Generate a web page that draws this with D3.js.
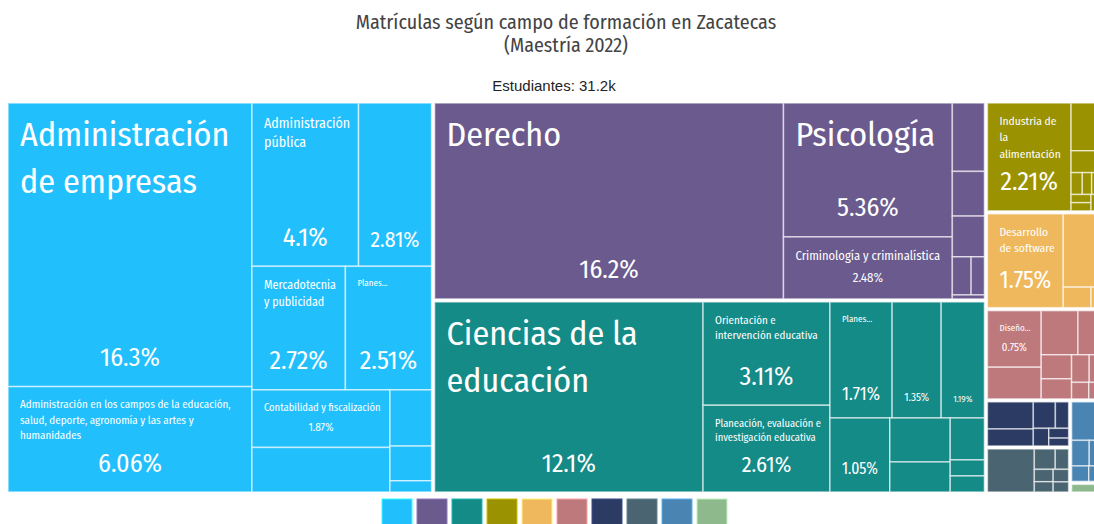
<!DOCTYPE html>
<html><head><meta charset="utf-8">
<script src="https://cdn.jsdelivr.net/npm/d3@7"></script>
<style>html,body{margin:0;padding:0;background:#fff;overflow:hidden}</style>
</head><body>
<svg id="chart" width="1094" height="524"></svg>
<script>
// ---------- DATA ----------
const titleLines = ["Matrículas según campo de formación en Zacatecas", "(Maestría 2022)"];
const subtitleLabel = "Estudiantes";
const totalStudents = 31200;

const groupNames = [
  "Administración y negocios",
  "Ciencias sociales y derecho",
  "Educación",
  "Ingeniería, manufactura y construcción",
  "Tecnologías de la información y la comunicación",
  "Artes y humanidades",
  "Ciencias de la salud",
  "Ciencias naturales, matemáticas y estadística",
  "Servicios",
  "Agronomía y veterinaria"
];
const groupColors = ["#22bffd", "#6a5a8e", "#158b88", "#9a9200", "#efb85c", "#be797c", "#2b3b64", "#4a6571", "#4984b2", "#8db98d"];

// leaf names ("" = name not shown in the picture) and shares (% of students)
const adminNames = ["Administración de empresas", "Administración en los campos de la educación, salud, deporte, agronomía y las artes y humanidades", "Administración pública", "", "Mercadotecnia y publicidad", "Planes multidisciplinarios o generales del campo de administración y negocios", "Contabilidad y fiscalización", "", "", "", ""];
const adminValues = [16.3, 6.06, 4.1, 2.81, 2.72, 2.51, 1.87, 1.45, 0.55, 0.34, 0.11];

const socialNames = ["Derecho", "Psicología", "Criminología y criminalística", "", "", "", "", "", ""];
const socialValues = [16.2, 5.36, 2.48, 0.52, 0.34, 0.31, 0.17, 0.12, 0.03];

const educNames = ["Ciencias de la educación", "Orientación e intervención educativa", "Planeación, evaluación e investigación educativa", "Planes multidisciplinarios o generales del campo de la educación", "", "", "", "", "", "", "", ""];
const educValues = [12.1, 3.11, 2.61, 1.71, 1.35, 1.19, 1.05, 0.63, 0.43, 0.34, 0.13, 0.13];

const ingNames = ["Industria de la alimentación", "", "", "", "", "", "", "", ""];
const ingValues = [2.21, 0.35, 0.16, 0.06, 0.05, 0.05, 0.04, 0.04, 0.04];

const ticNames = ["Desarrollo de software", "", "", ""];
const ticValues = [1.75, 0.68, 0.14, 0.05];

const artesNames = ["Diseño industrial, de modas e interiores", "", "", "", "", "", "", "", "", ""];
const artesValues = [0.75, 0.42, 0.40, 0.25, 0.18, 0.15, 0.12, 0.08, 0.07, 0.05];

const saludNames = ["", "", "", "", "", "", ""];
const saludValues = [0.32, 0.20, 0.15, 0.09, 0.07, 0.05, 0.04];

const natNames = ["", "", "", "", "", "", ""];
const natValues = [0.52, 0.11, 0.07, 0.06, 0.05, 0.05, 0.04];

const servNames = ["", "", "", "", ""];
const servValues = [0.30, 0.12, 0.08, 0.07, 0.05];

const agroNames = [""];
const agroValues = [0.08];

const leafNames = [adminNames, socialNames, educNames, ingNames, ticNames, artesNames, saludNames, natNames, servNames, agroNames];
const leafValues = [adminValues, socialValues, educValues, ingValues, ticValues, artesValues, saludValues, natValues, servValues, agroValues];

// ---------- CHART ----------
const FONT = '"Fira Sans Condensed", "Liberation Sans Narrow", "DejaVu Sans Condensed", "Roboto Condensed", "Noto Sans", sans-serif';
const svg = d3.select("#chart");

svg.append("g").selectAll("text").data(titleLines).join("text")
  .attr("x", 566).attr("y", (d, i) => 29 + i * 23)
  .attr("text-anchor", "middle")
  .style("font-family", FONT).style("font-size", "20px").style("fill", "#444")
  .text(d => d);

svg.append("text").attr("x", 554).attr("y", 91).attr("text-anchor", "middle")
  .style("font-family", "Arial, 'Liberation Sans', sans-serif").style("font-size", "15px").style("fill", "#222")
  .text(subtitleLabel + ": " + d3.format(".3s")(totalStudents));

const rootData = {
  name: "root",
  children: groupNames.map((g, i) => ({
    name: g, gi: i,
    children: leafNames[i].map((n, j) => ({name: n, gi: i, value: leafValues[i][j]}))
  }))
};
const root = d3.hierarchy(rootData)
  .sum(d => d.children ? 0 : d.value)
  .sort((a, b) => b.value - a.value);

const X0 = 8, X1 = 1101, Y0 = 103, Y1 = 492;
d3.treemap().tile(d3.treemapSquarify).size([X1 - X0, Y1 - Y0])
  .paddingInner(d => d.depth === 0 ? 3 : 0)(root);

const g = svg.append("g").attr("transform", `translate(${X0},${Y0})`);
const leaves = root.leaves();

g.selectAll("rect").data(leaves).join("rect")
  .attr("x", d => d.x0).attr("y", d => d.y0)
  .attr("width", d => Math.max(0, d.x1 - d.x0)).attr("height", d => Math.max(0, d.y1 - d.y0))
  .attr("fill", d => groupColors[d.data.gi])
  .attr("stroke", "rgba(255,255,255,0.6)").attr("stroke-width", 1.5);

// text measurement
const ctx = document.createElement("canvas").getContext("2d");
function tw(t, f) { ctx.font = f + "px " + FONT; return ctx.measureText(t).width; }
const pctFmt = d3.format(".3~r");
const PAD = 12, LH = 1.4, NAME_MAX = 34, NAME_MIN = 9, SHARE_MAX = 26;

function wrap(words, f, maxW) {
  const lines = []; let cur = "";
  for (const w of words) {
    if (tw(w, f) > maxW) return null;
    const t = cur ? cur + " " + w : w;
    if (tw(t, f) <= maxW) cur = t; else { lines.push(cur); cur = w; }
  }
  if (cur) lines.push(cur);
  return lines;
}
function fitName(name, maxW, bandH) {
  if (!name || bandH < NAME_MIN * 1.2) return null;
  const words = name.split(/\s+/);
  for (let f = NAME_MAX; f >= NAME_MIN; f -= 0.5) {
    const lines = wrap(words, f, maxW);
    if (lines && lines.length * f * LH <= bandH + f * 0.2) return {f, lines};
  }
  // truncate: first line plus ellipsis
  const f = NAME_MIN; let cur = "";
  for (const w of words) {
    const t = cur ? cur + " " + w : w;
    if (tw(t, f) <= maxW) cur = t; else break;
  }
  if (!cur) return null;
  return {f, lines: [cur + "..."]};
}

const labels = g.append("g").style("font-family", FONT).style("fill", "#fff");
leaves.forEach(d => {
  const w = d.x1 - d.x0, h = d.y1 - d.y0;
  if (w * h < 3000) return;
  const sh = Math.min(50, (h - 10) * 0.5);
  const share = pctFmt(d.value) + "%";
  let sf = Math.min(SHARE_MAX, (sh - 9) / 1.32);
  sf = Math.min(sf, (w - 2 * PAD) / tw(share, 1));
  if (sf >= 8) {
    labels.append("text")
      .attr("x", (d.x0 + d.x1) / 2).attr("y", d.y1 - 14 - 0.25 * sf)
      .attr("text-anchor", "middle").style("font-size", sf + "px")
      .text(share);
  }
  const fit = fitName(d.data.name, w - 20, h - sh - PAD);
  if (fit) {
    const t = labels.append("text").style("font-size", fit.f + "px");
    fit.lines.forEach((ln, i) => {
      t.append("tspan").attr("x", d.x0 + PAD)
        .attr("y", d.y0 + PAD + fit.f * LH * i + fit.f * 0.9)
        .text(ln);
    });
  }
});

// legend
const lg = svg.append("g");
lg.selectAll("rect").data(groupNames).join("rect")
  .attr("x", (d, i) => 382 + i * 35).attr("y", 499)
  .attr("width", 30).attr("height", 30)
  .attr("fill", (d, i) => groupColors[i])
  .attr("stroke", (d, i) => d3.color(groupColors[i]).brighter(0.8)).attr("stroke-width", 1)
  .append("title").text(d => d);
</script>
</body></html>
